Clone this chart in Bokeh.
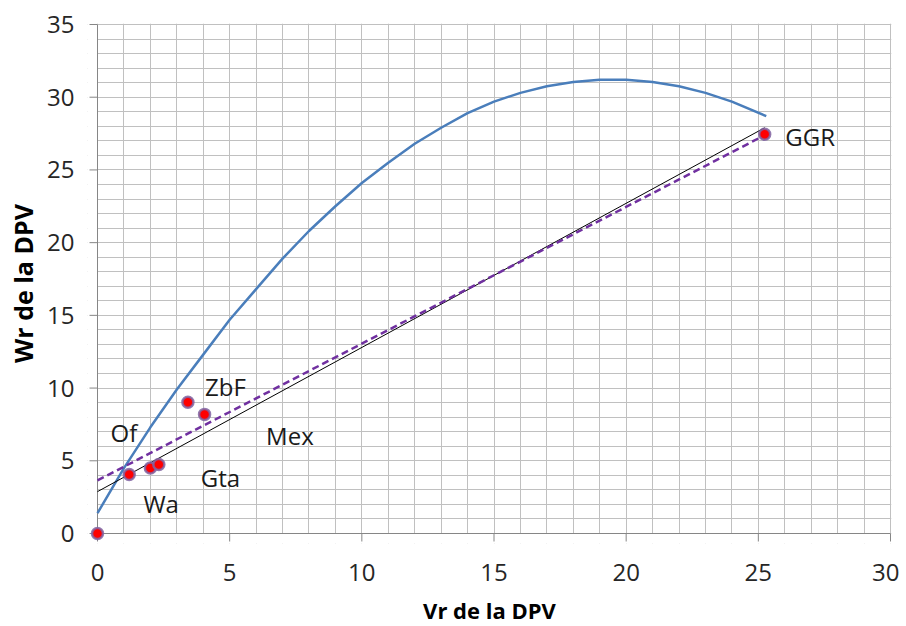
from bokeh.plotting import figure
from bokeh.models import FixedTicker, ColumnDataSource, BoxAnnotation
from bokeh.embed import file_html
from bokeh.resources import INLINE
from bokeh.core.properties import value

# Observed points (Vr, Wr)
vr = [0.0, 1.2, 2.0, 2.32, 3.42, 4.05, 25.24]
wr = [0.0, 4.06, 4.5, 4.75, 9.03, 8.19, 27.45]

# Point labels
label_text = ["Of", "Wa", "Gta", "ZbF", "Mex", "GGR"]
label_x = [1.0, 2.41, 4.65, 4.84, 7.28, 26.96]
label_y = [6.97, 2.09, 3.83, 10.1, 6.74, 27.3]

# Limiting curve
curve_x = [0, 1, 2, 3, 4, 5, 6, 7, 8, 9, 10, 11, 12, 13, 14, 15, 16, 17, 18, 19, 20, 21, 22, 23, 24, 25.3]
curve_y = [1.4, 4.5, 7.3, 9.9, 12.3, 14.7, 16.8, 18.9, 20.8, 22.5, 24.1, 25.5, 26.8, 27.9, 28.9, 29.7,
           30.3, 30.75, 31.05, 31.2, 31.2, 31.05, 30.75, 30.3, 29.7, 28.7]

# Unit-slope line (black) and regression line (purple dashed)
unit_x = [0, 25.24]
unit_y = [2.88, 27.9]
reg_x = [0, 25.2]
reg_y = [3.65, 27.35]

x_ticks = [0, 5, 10, 15, 20, 25, 30]
y_ticks = [0, 5, 10, 15, 20, 25, 30, 35]
x_grid = list(range(0, 31))
y_grid = list(range(0, 36))
X_MAX, Y_MAX = 30, 35

FONT = "Open Sans"
AXIS_GRAY = "#868686"

# layout: 793 x 509 px for the data area, plus a 10 px pad left/below so that
# the marker at the origin is not cut, and 1 px pad right/top
W_DATA, H_DATA, PAD, PAD2, TICK = 793, 509, 10, 1, 8
kx = W_DATA / X_MAX
ky = H_DATA / Y_MAX

p = figure(frame_width=W_DATA + PAD + PAD2, frame_height=H_DATA + PAD + PAD2,
           x_range=(-PAD / kx, X_MAX + PAD2 / kx), y_range=(-PAD / ky, Y_MAX + PAD2 / ky),
           output_backend="svg", toolbar_location=None,
           min_border_left=87, min_border_top=23, min_border_right=8, min_border_bottom=0)
p.outline_line_color = None
p.background_fill_color = "white"

for g, ticks in ((p.xgrid[0], x_grid), (p.ygrid[0], y_grid)):
    g.ticker = FixedTicker(ticks=ticks)
    g.grid_line_color = "#c0c0c0"
    g.grid_line_width = 1

# white strips hide the grid in the padding
p.add_layout(BoxAnnotation(right=0, fill_color="white", fill_alpha=1, line_color=None, level="underlay"))
p.add_layout(BoxAnnotation(top=0, fill_color="white", fill_alpha=1, line_color=None, level="underlay"))

for ax, ticks in ((p.xaxis[0], x_ticks), (p.yaxis[0], y_ticks)):
    ax.ticker = FixedTicker(ticks=ticks)
    ax.axis_line_color = None
    ax.major_tick_line_color = None
    ax.major_tick_out = 0
    ax.major_tick_in = 0
    ax.minor_tick_line_color = None
    ax.major_label_text_font = FONT
    ax.major_label_text_font_size = "24px"
    ax.major_label_text_color = "#262626"
    ax.axis_label_text_font = FONT
    ax.axis_label_text_font_style = "bold"
    ax.axis_label_text_color = "#000000"

p.xaxis[0].axis_label = "Vr de la DPV"
p.xaxis[0].axis_label_text_font_size = "22px"
p.xaxis[0].major_label_standoff = 20
p.xaxis[0].axis_label_standoff = 11
p.yaxis[0].axis_label = "Wr de la DPV"
p.yaxis[0].axis_label_text_font_size = "25px"
p.yaxis[0].major_label_standoff = 13
p.yaxis[0].axis_label_standoff = 4

# axis lines and outward tick marks at x = 0 and y = 0
tx = TICK / kx
ty = TICK / ky
p.segment(x0=[0] + [t for t in x_ticks], y0=[0] + [-ty] * len(x_ticks),
          x1=[X_MAX] + [t for t in x_ticks], y1=[0] * (len(x_ticks) + 1),
          line_color=AXIS_GRAY, line_width=1)
p.segment(x0=[0] + [-tx] * len(y_ticks), y0=[0] + [t for t in y_ticks],
          x1=[0] * (len(y_ticks) + 1), y1=[Y_MAX] + [t for t in y_ticks],
          line_color=AXIS_GRAY, line_width=1)

p.line(curve_x, curve_y, line_color="#4a7ebb", line_width=2.5)
p.line(unit_x, unit_y, line_color="#000000", line_width=1)
p.line(reg_x, reg_y, line_color="#7030a0", line_width=2.5, line_dash="7 4")

p.scatter(vr, wr, size=11, fill_color="#ff0000", line_color="#8064a2", line_width=2.5, line_alpha=0.85)

src = ColumnDataSource(dict(x=label_x, y=label_y, t=label_text))
p.text(x="x", y="y", text="t", source=src, text_font=value(FONT), text_font_size="24px",
       text_align="center", text_baseline="middle", text_color="#1a1a1a")

open("out.html", "w").write(file_html(p, INLINE))
